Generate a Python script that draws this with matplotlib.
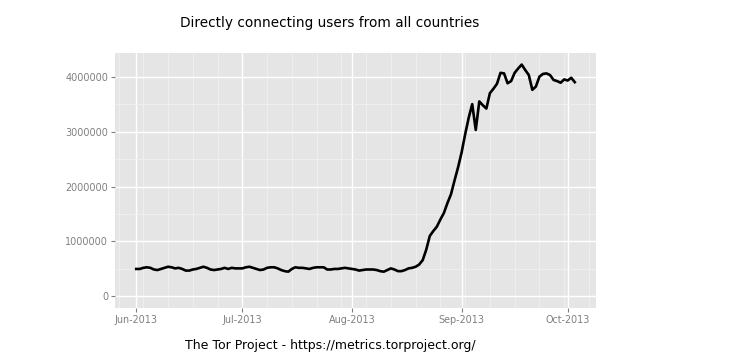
import datetime as dt
import matplotlib
matplotlib.use("Agg")
import matplotlib.pyplot as plt
import matplotlib.dates as mdates
from matplotlib.ticker import MultipleLocator, FuncFormatter

start = dt.date(2013, 6, 1)

# daily users, millions (Jun 1 .. Oct 3, 2013)
users_m = [
    0.50, 0.50, 0.52, 0.53, 0.52, 0.49, 0.48, 0.50, 0.52, 0.54,
    0.53, 0.51, 0.52, 0.50, 0.47, 0.47, 0.49, 0.50, 0.52, 0.54,
    0.52, 0.49, 0.48, 0.49, 0.50, 0.52, 0.50, 0.52, 0.51, 0.51,
    0.51, 0.53, 0.54, 0.52, 0.50, 0.48, 0.49, 0.52, 0.53, 0.53,
    0.51, 0.48, 0.46, 0.45, 0.50, 0.53, 0.52, 0.52, 0.51, 0.50,
    0.52, 0.53, 0.53, 0.53, 0.49, 0.49, 0.50, 0.50, 0.51, 0.52,
    0.51, 0.50, 0.49, 0.47, 0.48, 0.49, 0.49, 0.49, 0.48, 0.46,
    0.45, 0.48, 0.51, 0.49, 0.46, 0.46, 0.48, 0.51, 0.52, 0.54,
    0.58, 0.66, 0.85, 1.10, 1.19, 1.27, 1.40, 1.52, 1.70, 1.86,
    2.11, 2.35, 2.62, 2.95, 3.25, 3.50, 3.03, 3.55, 3.48, 3.42,
    3.70, 3.78, 3.87, 4.07, 4.06, 3.88, 3.92, 4.07, 4.15, 4.22,
    4.12, 4.03, 3.76, 3.82, 4.00, 4.05, 4.06, 4.03, 3.94, 3.92,
    3.89, 3.95, 3.93, 3.98, 3.90,
]
dates = [start + dt.timedelta(days=i) for i in range(len(users_m))]
users = [v * 1e6 for v in users_m]

month_ticks = [dt.date(2013, m, 1) for m in range(6, 11)]
y_ticks = [0, 1000000, 2000000, 3000000, 4000000]

title = "Directly connecting users from all countries"
footer = "The Tor Project - https://metrics.torproject.org/"

grey = "#7F7F7F"

fig = plt.figure(figsize=(7.3, 3.63), dpi=100)
ax = fig.add_axes([115 / 730, 55 / 363, 481 / 730, 255 / 363])
ax.set_facecolor("#E5E5E5")

ax.plot(dates, users, color="black", lw=1.9, solid_joinstyle="round", zorder=3)

pad = (len(users_m) - 1) * 0.05
ax.set_xlim(start - dt.timedelta(days=pad), dates[-1] + dt.timedelta(days=pad))
ymax = max(users)
ax.set_ylim(-0.05 * ymax, ymax * 1.05)

ax.set_xticks(month_ticks)
ax.xaxis.set_major_formatter(mdates.DateFormatter("%b-%Y"))
ax.xaxis.set_minor_locator(mdates.WeekdayLocator(byweekday=mdates.MO))
ax.set_yticks(y_ticks)
ax.yaxis.set_major_formatter(FuncFormatter(lambda v, p: "%d" % v))
ax.yaxis.set_minor_locator(MultipleLocator(500000))

ax.grid(which="major", color="white", lw=1.0)
ax.grid(which="minor", color="#F2F2F2", lw=0.5)
ax.set_axisbelow(True)
for s in ax.spines.values():
    s.set_visible(False)

ax.tick_params(which="major", length=3, width=0.8, color=grey, labelcolor=grey,
               labelsize=6.9, pad=2)
ax.tick_params(which="minor", length=0)

fig.text(330 / 730, 1 - 23 / 363, title, ha="center", va="center", fontsize=9.8)
fig.text(330 / 730, 1 - 346 / 363, footer, ha="center", va="center", fontsize=9.0)

fig.savefig("out.png", dpi=100)
